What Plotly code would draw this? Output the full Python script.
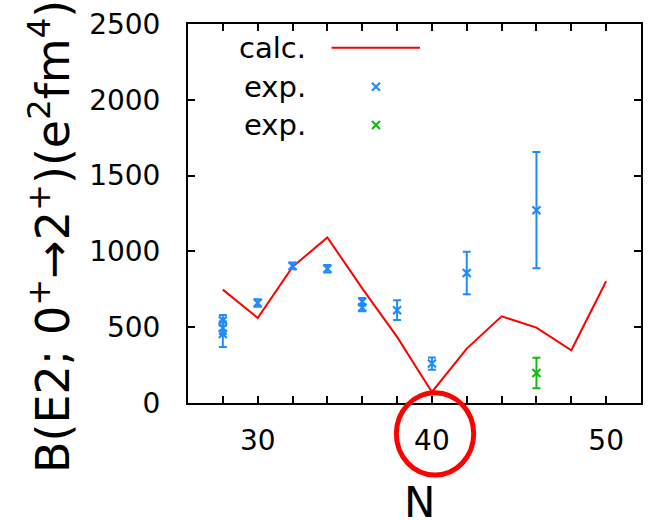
import plotly.graph_objects as go

# ---- data ----
calc_N = [28, 30, 32, 34, 36, 38, 40, 42, 44, 46, 48, 50]
calc_B = [748, 561, 898, 1092, 756, 436, 73, 359, 572, 497, 348, 803]

exp1_N = [28, 28, 28, 30, 32, 34, 36, 36, 38, 40, 42, 46]
exp1_B = [545, 495, 455, 660, 904, 885, 668, 630, 612, 260, 858, 1272]
exp1_err = [35, 40, 85, 25, 22, 25, 25, 25, 65, 40, 140, 383]

exp2_N = [46]
exp2_B = [198]
exp2_err = [100]

x_tickvals = [28, 30, 32, 34, 36, 38, 40, 42, 44, 46, 48, 50]
x_ticktext = ["", "30", "", "", "", "", "40", "", "", "", "", "50"]
y_tickvals = [0, 500, 1000, 1500, 2000, 2500]

legend_labels = ["calc.", "exp.", "exp."]
y_title = "B(E2; 0<sup>+</sup>→2<sup>+</sup>)(e<sup>2</sup>fm<sup>4</sup>)"
x_title = "N"

RED = "#ff0000"
BLUE = "#1e8cff"
GREEN = "#11bb11"
FONT = "DejaVu Sans"

fig = go.Figure()

fig.add_trace(go.Scatter(x=calc_N, y=calc_B, mode="lines",
                         line=dict(color=RED, width=2), showlegend=False))
fig.add_trace(go.Scatter(x=exp1_N, y=exp1_B, mode="markers",
                         marker=dict(symbol="x-thin", size=8, color=BLUE,
                                     line=dict(width=2.2, color=BLUE)),
                         error_y=dict(type="data", array=exp1_err, color=BLUE,
                                      thickness=2, width=4),
                         showlegend=False))
fig.add_trace(go.Scatter(x=exp2_N, y=exp2_B, mode="markers",
                         marker=dict(symbol="x-thin", size=8, color=GREEN,
                                     line=dict(width=2.2, color=GREEN)),
                         error_y=dict(type="data", array=exp2_err, color=GREEN,
                                      thickness=2, width=4),
                         showlegend=False))

# legend keys on an overlay axis spanning the plot area (0..1)
fig.add_trace(go.Scatter(x=[0.317, 0.512], y=[0.9375, 0.9375], mode="lines",
                         line=dict(color=RED, width=2), xaxis="x2", yaxis="y2",
                         showlegend=False, hoverinfo="skip"))
fig.add_trace(go.Scatter(x=[0.415], y=[0.8346], mode="markers",
                         marker=dict(symbol="x-thin", size=8, color=BLUE,
                                     line=dict(width=2.2, color=BLUE)),
                         xaxis="x2", yaxis="y2", showlegend=False, hoverinfo="skip"))
fig.add_trace(go.Scatter(x=[0.415], y=[0.7335], mode="markers",
                         marker=dict(symbol="x-thin", size=8, color=GREEN,
                                     line=dict(width=2.2, color=GREEN)),
                         xaxis="x2", yaxis="y2", showlegend=False, hoverinfo="skip"))

for lbl, yy in zip(legend_labels, [0.9375, 0.8346, 0.7335]):
    fig.add_annotation(text=lbl, xref="paper", yref="paper", x=0.265, y=yy,
                       xanchor="right", yanchor="middle", showarrow=False,
                       font=dict(family=FONT, size=29, color="black"))

# axis titles as annotations (positioned like the reference)
fig.add_annotation(text=y_title, xref="paper", yref="paper", x=-0.305, y=0.44,
                   xanchor="center", yanchor="middle", textangle=-90, showarrow=False,
                   font=dict(family=FONT, size=46, color="black"))
fig.add_annotation(text=x_title, xref="paper", yref="paper", x=0.512, y=-0.262,
                   xanchor="center", yanchor="middle", showarrow=False,
                   font=dict(family=FONT, size=42, color="black"))

# red circle around the "40" tick label
fig.add_shape(type="circle", xref="paper", yref="paper",
              x0=0.4599, x1=0.6307, y0=-0.19, y1=0.0272,
              line=dict(color=RED, width=5))

axis_common = dict(showline=True, linecolor="black", linewidth=2, mirror="allticks",
                   ticks="inside", ticklen=7, tickwidth=1.5, tickcolor="black",
                   showgrid=False, zeroline=False, automargin=False,
                   tickfont=dict(family=FONT, size=28, color="black"))

fig.update_layout(
    width=648, height=520,
    margin=dict(l=188, r=7, t=24, b=117),
    plot_bgcolor="white", paper_bgcolor="white",
    xaxis=dict(range=[26, 52], tickvals=x_tickvals, ticktext=x_ticktext,
               ticklabelstandoff=11, **axis_common),
    yaxis=dict(range=[0, 2500], tickvals=y_tickvals, ticklabelstandoff=20,
               **axis_common),
    xaxis2=dict(overlaying="x", range=[0, 1], visible=False),
    yaxis2=dict(overlaying="y", range=[0, 1], visible=False),
)

fig.write_html("out.html")
